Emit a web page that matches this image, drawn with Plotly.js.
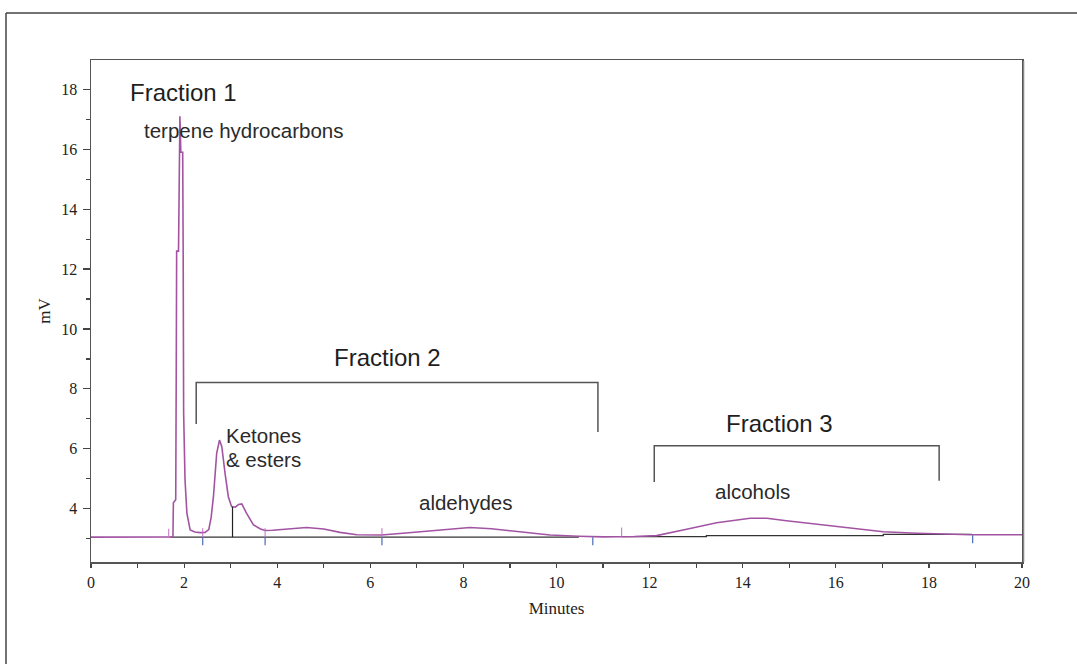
<!DOCTYPE html>
<html>
<head>
<meta charset="utf-8">
<script src="https://cdn.plot.ly/plotly-3.0.1.min.js"></script>
<style>html,body{margin:0;padding:0;background:#fff;}#chart{width:1077px;height:664px;}</style>
</head>
<body>
<div id="chart"></div>
<script>
// Chromatogram signal (minutes, mV)
const timeMin = [0, 1.70, 1.76, 1.77, 1.82, 1.83, 1.84, 1.88, 1.89, 1.91, 1.93, 1.97, 1.98, 1.99, 2.02, 2.06, 2.13, 2.23, 2.35, 2.45, 2.53, 2.58, 2.63, 2.70, 2.76, 2.81, 2.88, 2.95, 3.02, 3.10, 3.17, 3.24, 3.34, 3.49, 3.63, 3.74, 3.90, 4.20, 4.63, 5.00, 5.35, 5.71, 6.24, 6.70, 7.20, 7.70, 8.14, 8.60, 9.07, 9.50, 9.86, 10.47, 11.00, 11.67, 12.15, 12.72, 13.44, 14.16, 14.52, 14.94, 15.59, 16.30, 17.02, 17.74, 18.56, 18.90, 20.00];
const signalMv = [3.05, 3.05, 3.06, 4.2, 4.3, 8.1, 12.6, 12.6, 15.6, 17.1, 15.9, 15.9, 12.5, 7.2, 4.96, 3.85, 3.29, 3.22, 3.20, 3.21, 3.3, 3.7, 4.4, 5.85, 6.29, 6.07, 5.18, 4.4, 4.07, 4.05, 4.14, 4.16, 3.85, 3.46, 3.33, 3.27, 3.28, 3.31, 3.37, 3.32, 3.21, 3.13, 3.12, 3.18, 3.25, 3.32, 3.37, 3.33, 3.25, 3.17, 3.12, 3.08, 3.06, 3.07, 3.10, 3.29, 3.53, 3.68, 3.68, 3.60, 3.49, 3.35, 3.23, 3.18, 3.15, 3.13, 3.13];

// Integration baseline segments (null = gap)
const baselineT = [1.70, 10.48, null, 11.40, 13.22, 13.22, 17.02, 17.02, 18.92];
const baselineV = [3.05, 3.05, null, 3.07, 3.07, 3.10, 3.10, 3.14, 3.14];

// Peak drop line
const dropT = [3.04];

// Event marks
const startMarks = [1.67, 2.40, 3.74, 6.25, 11.40];
const endMarks = [2.40, 3.74, 6.25, 10.78, 18.94];

// Fractions
const fractionNames = ['Fraction 1', 'Fraction 2', 'Fraction 3'];
const fractionStart = [2.26, 12.10];
const fractionEnd = [10.89, 18.22];

// Compound class labels
const classLabels = ['terpene hydrocarbons', 'Ketones', '& esters', 'aldehydes', 'alcohols'];

// Axis ticks
const xTicks = [0, 2, 4, 6, 8, 10, 12, 14, 16, 18, 20];
const yTicks = [4, 6, 8, 10, 12, 14, 16, 18];

function interp(xs, ys, t) {
  for (let i = 0; i < xs.length - 1; i++) {
    if (xs[i] == null || xs[i + 1] == null) continue;
    if (t >= xs[i] && t <= xs[i + 1]) {
      const f = (t - xs[i]) / ((xs[i + 1] - xs[i]) || 1);
      return ys[i] + f * (ys[i + 1] - ys[i]);
    }
  }
  return null;
}
function baseAt(t) {
  const b = interp(baselineT, baselineV, t);
  return b != null ? b : interp(timeMin, signalMv, t) - 0.02;
}

const purple = '#a254a2';
const traces = [];
traces.push({x: baselineT, y: baselineV, mode: 'lines', line: {color: '#333', width: 1.3}, connectgaps: false, hoverinfo: 'skip'});
traces.push({x: timeMin, y: signalMv, mode: 'lines', line: {color: purple, width: 1.6}, hoverinfo: 'x+y'});

// Fraction brackets
const bracketTop = [8.21, 6.10];
const bracketLeftLow = [6.83, 4.89];
const bracketRightLow = [6.56, 4.93];
for (let i = 0; i < fractionStart.length; i++) {
  traces.push({x: [fractionStart[i], fractionStart[i], fractionEnd[i], fractionEnd[i]],
               y: [bracketLeftLow[i], bracketTop[i], bracketTop[i], bracketRightLow[i]],
               mode: 'lines', line: {color: '#555', width: 1.5}, hoverinfo: 'skip'});
}

const shapes = [];
dropT.forEach(t => {
  shapes.push({type: 'line', xref: 'x', yref: 'y', x0: t, x1: t, y0: baseAt(t), y1: interp(timeMin, signalMv, t), line: {color: '#222', width: 1.2}});
});
startMarks.forEach(t => {
  shapes.push({type: 'line', xref: 'x', yref: 'y', ysizemode: 'pixel', yanchor: baseAt(t), x0: t, x1: t, y0: 0, y1: 9, line: {color: '#c070c0', width: 1}});
});
endMarks.forEach(t => {
  shapes.push({type: 'line', xref: 'x', yref: 'y', ysizemode: 'pixel', yanchor: baseAt(t), x0: t, x1: t, y0: 0, y1: -8, line: {color: '#4a6ab8', width: 1.2}});
});
// outer frame (paper coords)
const px = v => (v - 91) / 931, py = v => (562 - v) / 502;
shapes.push({type: 'line', xref: 'paper', yref: 'paper', x0: px(6), x1: px(1077), y0: py(13), y1: py(13), line: {color: '#444', width: 1.5}});
shapes.push({type: 'line', xref: 'paper', yref: 'paper', x0: px(6), x1: px(6), y0: py(13), y1: py(664), line: {color: '#444', width: 1.5}});
shapes.push({type: 'line', xref: 'paper', yref: 'paper', x0: px(1024), x1: px(1024), y0: py(61), y1: py(562), line: {color: '#bbb', width: 1}});

const sansBig = {family: 'Liberation Sans, Arial, sans-serif', size: 24, color: '#1e1e1e'};
const sans = {family: 'Liberation Sans, Arial, sans-serif', size: 20.5, color: '#2a2a2a'};
function ann(text, x, y, font) {
  return {text: text, x: x, y: y, xref: 'x', yref: 'y', xanchor: 'left', yanchor: 'middle', showarrow: false, font: font};
}
const annotations = [
  ann(fractionNames[0], 0.80, 17.91, sansBig),
  ann(classLabels[0], 1.10, 16.61, sans),
  ann(fractionNames[1], 5.18, 9.06, sansBig),
  ann(classLabels[1], 2.85, 6.43, sans),
  ann(classLabels[2], 2.85, 5.63, sans),
  ann(classLabels[3], 7.0, 4.22, sans),
  ann(fractionNames[2], 13.60, 6.83, sansBig),
  ann(classLabels[4], 13.36, 4.59, sans)
];

const serif = {family: 'Liberation Serif, Times New Roman, serif', size: 16, color: '#222'};
const serifTitle = {family: 'Liberation Serif, Times New Roman, serif', size: 17, color: '#222'};
const layout = {
  width: 1077, height: 664,
  margin: {l: 91, r: 55, t: 60, b: 102},
  paper_bgcolor: '#fff', plot_bgcolor: '#fff',
  showlegend: false,
  xaxis: {
    range: [0, 20], tickvals: xTicks, ticktext: xTicks.map(String),
    ticks: 'outside', ticklen: 4, tickwidth: 1.2, tickcolor: '#444',
    minor: {dtick: 1, tick0: 0, ticks: 'outside', ticklen: 4, tickcolor: '#444', tickwidth: 1.2},
    showline: true, linecolor: '#555', linewidth: 1.5, mirror: true,
    showgrid: false, zeroline: false, tickfont: serif, ticklabelstandoff: 1,
    title: {text: 'Minutes', font: serifTitle, standoff: 12}
  },
  yaxis: {
    range: [2.22, 18.98], tickvals: yTicks, ticktext: yTicks.map(String),
    ticks: 'outside', ticklen: 7, tickwidth: 1.2, tickcolor: '#444',
    minor: {dtick: 1, tick0: 0, ticks: 'outside', ticklen: 4, tickcolor: '#444', tickwidth: 1.2},
    showline: true, linecolor: '#555', linewidth: 1.5, mirror: true,
    showgrid: false, zeroline: false, tickfont: serif, ticklabelstandoff: 2,
    title: {text: 'mV', font: serifTitle, standoff: 6}
  },
  shapes: shapes,
  annotations: annotations
};
Plotly.newPlot('chart', traces, layout, {staticPlot: true, displayModeBar: false});
</script>
</body>
</html>
